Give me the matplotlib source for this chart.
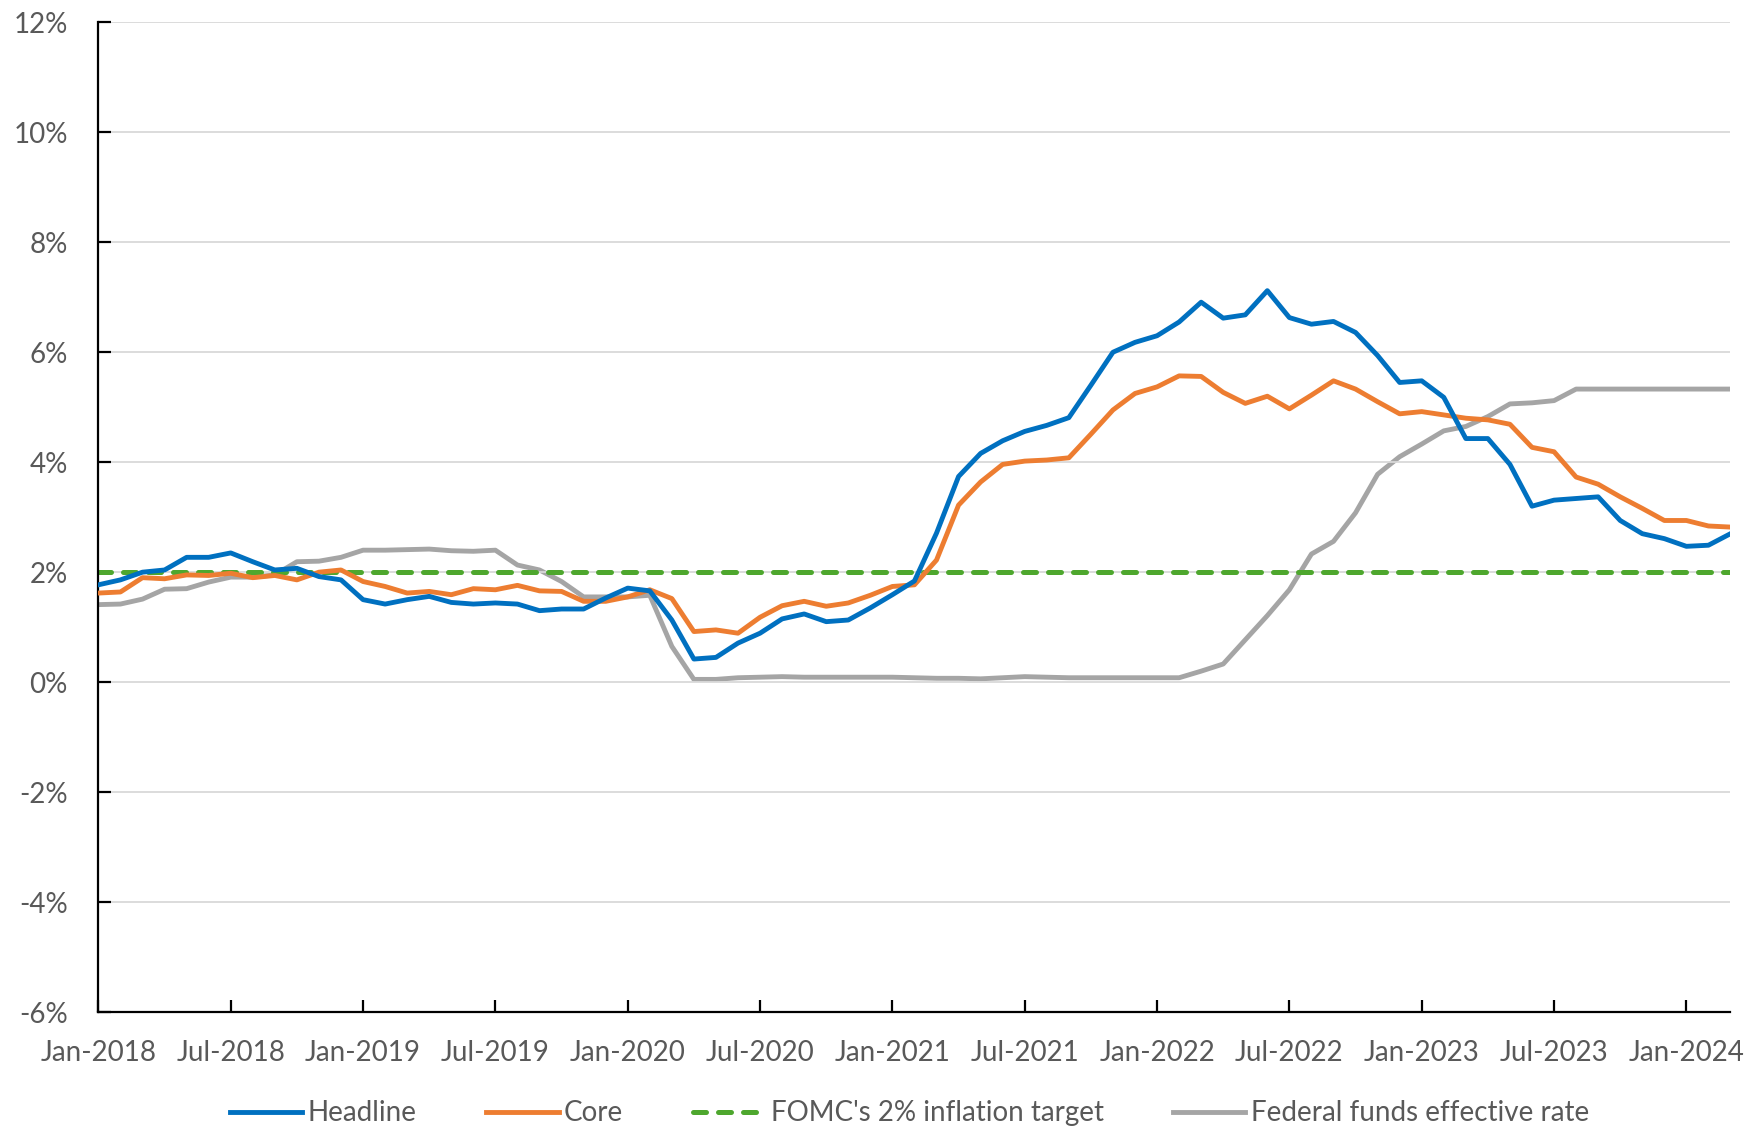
import numpy as np
import matplotlib.pyplot as plt
from matplotlib.ticker import FuncFormatter, MultipleLocator

plt.rcParams['font.family'] = ['Lato', 'DejaVu Sans']

# monthly, Jan-2018 .. Mar-2024
months = np.arange(75)
tick_pos = np.arange(0, 75, 6)
tick_labels = ['Jan-2018', 'Jul-2018', 'Jan-2019', 'Jul-2019', 'Jan-2020', 'Jul-2020',
               'Jan-2021', 'Jul-2021', 'Jan-2022', 'Jul-2022', 'Jan-2023', 'Jul-2023',
               'Jan-2024']

headline = [1.77, 1.86, 2.00, 2.04, 2.27, 2.27, 2.35, 2.19, 2.04, 2.07, 1.92, 1.86,
            1.50, 1.42, 1.50, 1.56, 1.45, 1.42, 1.44, 1.42, 1.30, 1.33, 1.33, 1.53,
            1.71, 1.66, 1.13, 0.42, 0.45, 0.71, 0.89, 1.15, 1.24, 1.10, 1.13, 1.35,
            1.59, 1.84, 2.71, 3.74, 4.16, 4.39, 4.56, 4.67, 4.81, 5.40, 6.00, 6.18,
            6.30, 6.55, 6.91, 6.62, 6.68, 7.12, 6.63, 6.51, 6.56, 6.36, 5.94, 5.45,
            5.48, 5.18, 4.43, 4.43, 3.96, 3.20, 3.31, 3.34, 3.37, 2.94, 2.70, 2.61,
            2.47, 2.49, 2.70]

core = [1.62, 1.64, 1.90, 1.88, 1.95, 1.94, 1.98, 1.90, 1.94, 1.86, 2.00, 2.04,
        1.83, 1.74, 1.62, 1.65, 1.59, 1.70, 1.68, 1.76, 1.66, 1.65, 1.47, 1.47,
        1.55, 1.68, 1.52, 0.92, 0.95, 0.89, 1.18, 1.39, 1.47, 1.38, 1.44, 1.58,
        1.74, 1.77, 2.22, 3.22, 3.64, 3.96, 4.02, 4.04, 4.08, 4.51, 4.95, 5.25,
        5.37, 5.57, 5.56, 5.27, 5.07, 5.20, 4.97, 5.22, 5.48, 5.33, 5.10, 4.88,
        4.92, 4.86, 4.80, 4.77, 4.69, 4.27, 4.19, 3.73, 3.60, 3.37, 3.16, 2.94,
        2.94, 2.84, 2.82]

fed_funds = [1.41, 1.42, 1.51, 1.69, 1.70, 1.82, 1.91, 1.91, 1.95, 2.19, 2.20, 2.27,
             2.40, 2.40, 2.41, 2.42, 2.39, 2.38, 2.40, 2.13, 2.04, 1.83, 1.55, 1.55,
             1.55, 1.58, 0.65, 0.05, 0.05, 0.08, 0.09, 0.10, 0.09, 0.09, 0.09, 0.09,
             0.09, 0.08, 0.07, 0.07, 0.06, 0.08, 0.10, 0.09, 0.08, 0.08, 0.08, 0.08,
             0.08, 0.08, 0.20, 0.33, 0.77, 1.21, 1.68, 2.33, 2.56, 3.08, 3.78, 4.10,
             4.33, 4.57, 4.65, 4.83, 5.06, 5.08, 5.12, 5.33, 5.33, 5.33, 5.33, 5.33,
             5.33, 5.33, 5.33]

target = 2.0

fig = plt.figure(figsize=(17.54, 11.28), dpi=100)
ax = fig.add_axes([0.0561, 0.1028, 0.9305, 0.8774])

ax.plot(months, headline, color='#0070C0', linewidth=3.5, label='Headline', zorder=4)
ax.plot(months, core, color='#ED7D31', linewidth=3.5, label='Core', zorder=3)
ax.plot(months, [target] * len(months), color='#4EA72E', linewidth=3.6,
        linestyle=(0, (2.6, 2.4)), dash_capstyle='round',
        label="FOMC's 2% inflation target", zorder=2)
ax.plot(months, fed_funds, color='#A5A5A5', linewidth=3.5,
        label='Federal funds effective rate', zorder=1)

ax.set_xlim(0, 74)
ax.set_ylim(-6, 12)
ax.yaxis.set_major_locator(MultipleLocator(2))
ax.yaxis.set_major_formatter(FuncFormatter(lambda v, p: f'{v:.0f}%'))
ax.set_xticks(tick_pos)
ax.set_xticklabels(tick_labels)

ax.grid(axis='y', color='#D9D9D9', linewidth=1.3, zorder=0)
for s in ['top', 'right']:
    ax.spines[s].set_visible(False)
for s in ['left', 'bottom']:
    ax.spines[s].set_linewidth(1.6)
    ax.spines[s].set_color('black')

ax.tick_params(axis='both', direction='in', length=9, width=1.6, colors='black',
               labelcolor='#595959', labelsize=20)
ax.tick_params(axis='y', pad=22)
ax.tick_params(axis='x', pad=20)

leg = ax.legend(loc='upper center', bbox_to_anchor=(0.497, -0.064), ncol=4,
                frameon=False, fontsize=20, handlelength=2.6, handletextpad=0.2,
                columnspacing=2.5, labelcolor='#595959')

fig.savefig('out.png', dpi=100)
